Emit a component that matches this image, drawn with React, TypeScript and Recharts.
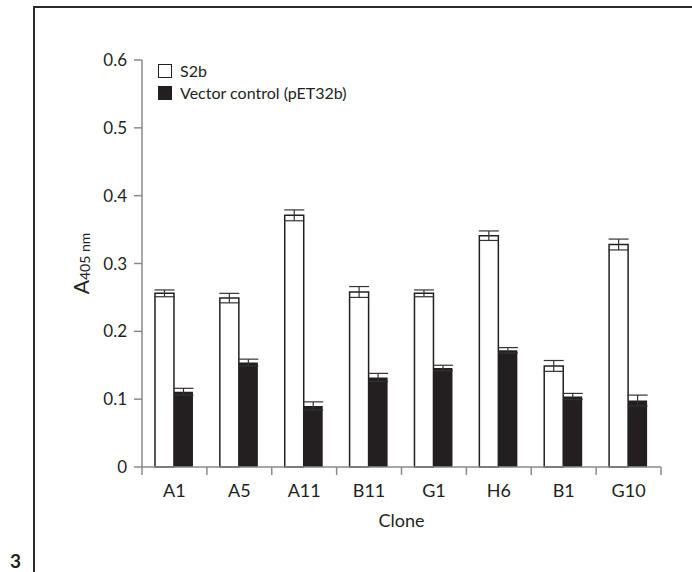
import React from 'react';
import { BarChart, Bar, XAxis, YAxis, ErrorBar } from 'recharts';

const clones = ['A1', 'A5', 'A11', 'B11', 'G1', 'H6', 'B1', 'G10'];
const s2b = [0.256, 0.249, 0.371, 0.258, 0.256, 0.341, 0.149, 0.328];
const s2bErr = [0.005, 0.007, 0.008, 0.008, 0.005, 0.007, 0.008, 0.008];
const vector = [0.111, 0.154, 0.09, 0.132, 0.146, 0.172, 0.104, 0.098];
const vectorErr = [0.005, 0.005, 0.006, 0.006, 0.004, 0.004, 0.0045, 0.008];
const yTicks = [0, 0.1, 0.2, 0.3, 0.4, 0.5, 0.6];
const seriesNames = ['S2b', 'Vector control (pET32b)'];

const data = clones.map((c, i) => ({
  clone: c,
  s2b: s2b[i],
  s2bErr: s2bErr[i],
  vector: vector[i],
  vectorErr: vectorErr[i],
}));

const W = 692;
const H = 572;
const X_AXIS_H = 60;
const M = { top: 60, right: 31, bottom: 105 - X_AXIS_H, left: 82 };
const Y_AXIS_W = 60;
const PLOT_W = W - M.left - M.right - Y_AXIS_W;
const BAND = PLOT_W / clones.length;

const FONT = 'Lato, "Open Sans", sans-serif';
const TEXT = '#231f20';
const AXIS = '#8a8a8a';

const XTick = (props: any) => {
  const { x, y, payload, index } = props;
  const half = BAND / 2;
  const last = index === clones.length - 1;
  return (
    <g>
      <line x1={x - half} x2={x - half} y1={y} y2={y + 8} stroke={AXIS} strokeWidth={1.5} />
      {last && <line x1={x + half} x2={x + half} y1={y} y2={y + 8} stroke={AXIS} strokeWidth={1.5} />}
      <text x={x} y={y + 30} textAnchor="middle" fontSize={18} fontFamily={FONT} fill={TEXT}>
        {payload.value}
      </text>
    </g>
  );
};

const YLabel = (props: any) => {
  const vb = props.viewBox || {};
  const cx = 89;
  const cy = (vb.y ?? M.top) + (vb.height ?? 407) / 2;
  return (
    <text
      x={cx}
      y={cy}
      transform={`rotate(-90, ${cx}, ${cy})`}
      textAnchor="middle"
      fontFamily={FONT}
      fill={TEXT}
    >
      <tspan fontSize={21}>A</tspan>
      <tspan fontSize={14} dy={1}>405 nm</tspan>
    </text>
  );
};

export default function App() {
  return (
    <div style={{ position: 'absolute', left: 0, top: 0, width: W, height: H, background: '#fff', fontFamily: FONT, overflow: 'hidden' }}>
      <div
        style={{
          position: 'absolute',
          left: 33,
          top: 6,
          width: W - 33,
          height: H - 6,
          borderTop: '2px solid #2a2a2a',
          borderLeft: '2px solid #2a2a2a',
          boxSizing: 'border-box',
        }}
      />
      <div
        style={{
          position: 'absolute',
          left: 10,
          top: 552,
          fontSize: 19,
          lineHeight: '17px',
          fontWeight: 'bold',
          color: TEXT,
          fontFamily: FONT,
        }}
      >
        3
      </div>
      <div style={{ position: 'absolute', left: 0, top: 0 }}>
        <BarChart width={W} height={H} data={data} margin={M} barCategoryGap="20%" barGap={0}>
          <XAxis
            dataKey="clone"
            axisLine={{ stroke: AXIS, strokeWidth: 1.5 }}
            tickLine={false}
            tickSize={0}
            tickMargin={0}
            interval={0}
            tick={<XTick />}
            label={{ value: 'Clone', position: 'insideBottom', offset: 0, fontSize: 18, fontFamily: FONT, fill: TEXT } as any}
            height={X_AXIS_H}
          />
          <YAxis
            width={Y_AXIS_W}
            domain={[0, 0.6]}
            ticks={yTicks}
            interval={0}
            tickFormatter={(v: number) => (v === 0 ? '0' : v.toFixed(1))}
            axisLine={{ stroke: AXIS, strokeWidth: 1.5 }}
            tickLine={{ stroke: AXIS, strokeWidth: 1.5 }}
            tickSize={8}
            tickMargin={7}
            tick={{ fontSize: 17, fontFamily: FONT, fill: TEXT }}
            label={<YLabel />}
          />
          <Bar dataKey="s2b" name={seriesNames[0]} fill="#ffffff" stroke="#231f20" strokeWidth={1.5} isAnimationActive={false}>
            <ErrorBar dataKey="s2bErr" width={10} stroke="#333" strokeWidth={1.2} />
          </Bar>
          <Bar dataKey="vector" name={seriesNames[1]} fill="#231f20" isAnimationActive={false}>
            <ErrorBar dataKey="vectorErr" width={10} stroke="#333" strokeWidth={1.2} />
          </Bar>
        </BarChart>
      </div>
      <div style={{ position: 'absolute', left: 158, top: 60, fontFamily: FONT, fontSize: 16, color: TEXT, lineHeight: '22px' }}>
        {seriesNames.map((n, i) => (
          <div key={n} style={{ display: 'flex', alignItems: 'center', height: 22 }}>
            <span
              style={{
                display: 'inline-block',
                width: 14,
                height: 14,
                boxSizing: 'border-box',
                border: '1.5px solid #231f20',
                background: i === 0 ? '#fff' : '#231f20',
                marginRight: 8,
              }}
            />
            <span>{n}</span>
          </div>
        ))}
      </div>
    </div>
  );
}
